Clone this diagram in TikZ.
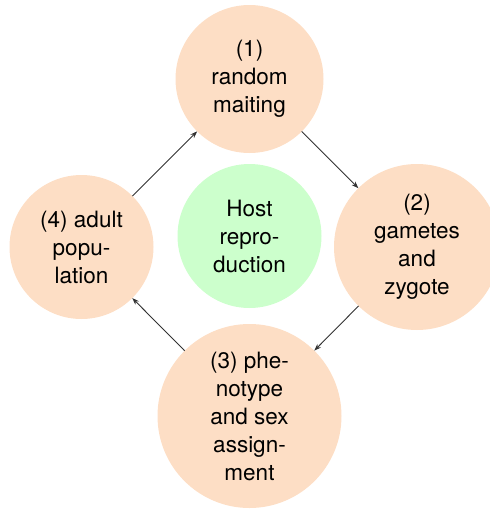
\documentclass[tikz,border=0pt]{standalone}
\usepackage{fontspec}
\setmainfont{TeX Gyre Heros}
\usetikzlibrary{arrows.meta}
\definecolor{stagefill}{RGB}{253,222,197}
\definecolor{hostfill}{RGB}{204,255,204}
\definecolor{arrowcol}{RGB}{50,50,50}
\begin{document}
\begin{tikzpicture}[x=1pt,y=-1pt,
  stage/.style={circle,fill=stagefill,inner sep=0pt,outer sep=0pt,align=center,
    font=\fontsize{22.5}{28}\selectfont},
  host/.style={stage,fill=hostfill},
  cycle/.style={-{Stealth[length=7pt,width=5pt]},draw=arrowcol,line width=0.9pt}]
\useasboundingbox (0,0) rectangle (490,509);
\clip (0,0) rectangle (490,509);
\node[stage,minimum size=148pt] (s1) at (249.5,79) {(1)\\random\\maiting};
\node[stage,minimum size=166pt] (s2) at (417,247) {(2)\\gametes\\and\\zygote};
\node[stage,minimum size=184pt] (s3) at (249.5,416) {(3) phe-\\notype\\and sex\\assign-\\ment};
\node[stage,minimum size=144pt] (s4) at (81.5,247) {(4) adult\\popu-\\lation};
\node[host,minimum size=144pt] (hr) at (249.5,236) {Host\\repro-\\duction};
\draw[cycle] (s1) -- (s2);
\draw[cycle] (s2) -- (s3);
\draw[cycle] (s3) -- (s4);
\draw[cycle] (s4) -- (s1);
\end{tikzpicture}
\end{document}
